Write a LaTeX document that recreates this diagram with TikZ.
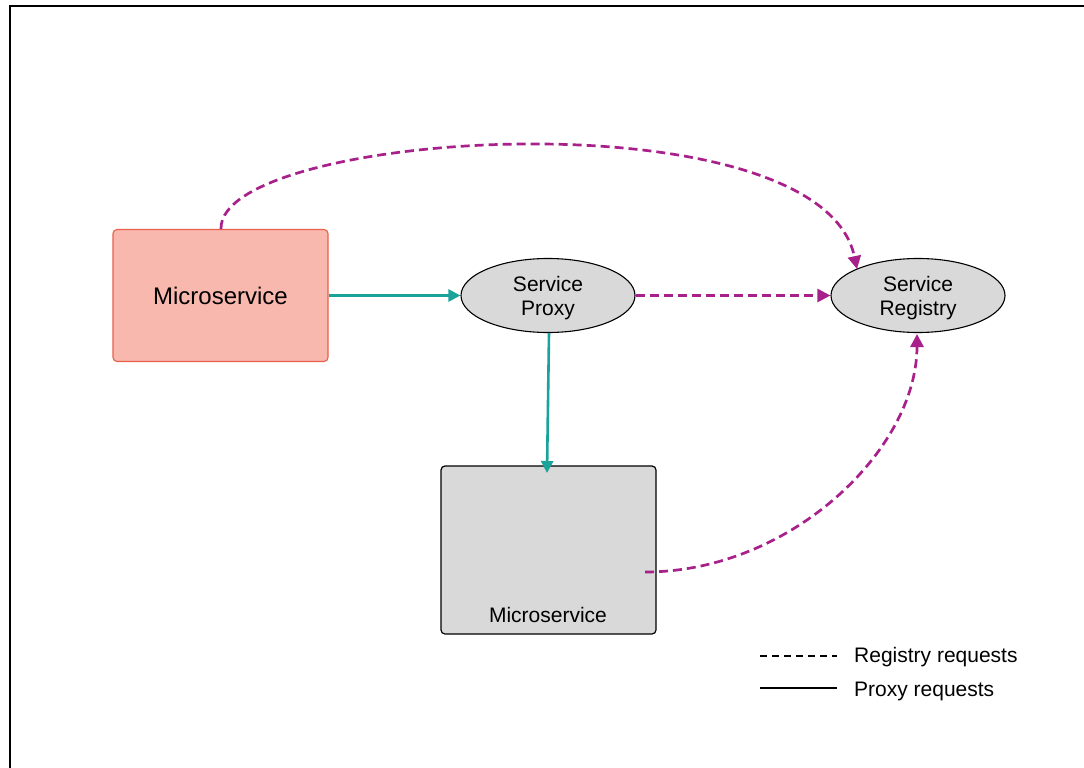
\documentclass[tikz,border=0pt]{standalone}
\usepackage{fontspec}
\setmainfont{Liberation Sans}
\usetikzlibrary{arrows.meta,shapes.geometric}
\definecolor{salmon}{HTML}{F9B8AE}
\definecolor{salmonedge}{HTML}{E8604A}
\definecolor{boxgray}{HTML}{D9D9D9}
\definecolor{teal}{HTML}{1AA39A}
\definecolor{magent}{HTML}{A8208A}
\newcommand{\twolines}[2]{\raisebox{-3.5pt}[\height][\depth]{\begin{tabular}{@{}c@{}}#1\\#2\end{tabular}}}
\tikzset{
  msbox/.style={draw=black, fill=boxgray, rounded corners=4pt, line width=1.2pt},
  ellnode/.style={ellipse, draw=black, fill=boxgray, line width=1.1pt, minimum width=174pt, minimum height=74pt, inner sep=0pt, align=center, font=\fontsize{21}{24}\selectfont},
  proxyarr/.style={draw=teal, line width=2.6pt, -{Triangle[length=12pt,width=12pt]}},
  regarr/.style={draw=magent, line width=2.7pt, dash pattern=on 9pt off 5pt, -{Triangle[length=13pt,width=13pt]}},
  legtext/.style={anchor=west, font=\fontsize{21}{24}\selectfont, inner sep=0pt}
}
\begin{document}
\begin{tikzpicture}[x=1pt,y=-1pt]
\useasboundingbox (0,0) rectangle (1084,768);
\draw[line width=1.5pt] (10,768) -- (10,6) -- (1084,6);
% left microservice
\node[draw=salmonedge, fill=salmon, rounded corners=4pt, line width=1.1pt, minimum width=215pt, minimum height=132pt, inner sep=0pt, font=\fontsize{24}{28}\selectfont] (ms1) at (220.5,295.5) {Microservice};
% bottom microservice
\node[msbox, minimum width=215pt, minimum height=168pt, inner sep=0pt] (ms2) at (548.5,550) {};
\node[font=\fontsize{21}{24}\selectfont, inner sep=0pt] (ms2t) at (548,615) {Microservice};
% ellipses
\node[ellnode] (proxy) at (548,295.5) {\twolines{Service}{Proxy}};
\node[ellnode] (reg) at (918,295.5) {\twolines{Service}{Registry}};
% coordinates
\coordinate (pxb) at (549,333);
\coordinate (ms2top) at (547,473);
\coordinate (ms1top) at (221,229);
\coordinate (regtop) at (857,269);
\coordinate (regbot) at (917,334);
\coordinate (ms2r) at (645,572);
% proxy requests
\draw[proxyarr] (ms1.east) -- (proxy.west);
\draw[proxyarr] (pxb) -- (ms2top);
% registry requests
\draw[regarr] (proxy.east) -- (reg.west);
\draw[regarr] (ms1top) .. controls (218,130) and (820,92) .. (regtop);
\draw[regarr] (ms2r) .. controls (790,572) and (917,450) .. (regbot);
% legend
\coordinate (l1a) at (760,656);
\coordinate (l1b) at (837,656);
\coordinate (l2a) at (760,688);
\coordinate (l2b) at (837,688);
\draw[line width=1.5pt, dash pattern=on 7pt off 5pt] (l1a) -- (l1b);
\draw[line width=1.5pt] (l2a) -- (l2b);
\node[legtext] (lt1) at (854,657) {Registry requests};
\node[legtext] (lt2) at (854,691) {Proxy requests};
\end{tikzpicture}
\end{document}
